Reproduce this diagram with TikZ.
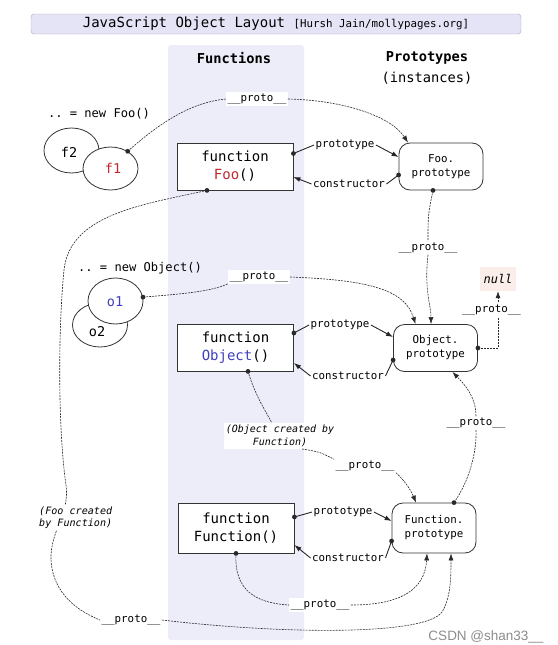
\documentclass[tikz,border=0pt]{standalone}
\usepackage{fontspec}
\setmonofont{DejaVu Sans Mono}
\newfontfamily\csdnfont{Liberation Sans}
\usetikzlibrary{arrows.meta,shapes.geometric}
\definecolor{colfill}{HTML}{EDEDFA}
\definecolor{titlefill}{HTML}{E4E4F6}
\definecolor{titleborder}{HTML}{A8A8C0}
\definecolor{fooRed}{HTML}{C0282E}
\definecolor{objBlue}{HTML}{3F3FBF}
\definecolor{nullbg}{HTML}{FBEDEA}
\definecolor{linec}{HTML}{2A2A2A}
\newcommand\dotat[1]{\fill[linec] #1 circle[radius=2.4pt];}
\begin{document}
\begin{tikzpicture}[x=1pt,y=-1pt,
  fbox/.style={draw=black!80, line width=0.8pt, fill=white, minimum width=116pt, minimum height=47pt, align=center, inner sep=0pt, font=\ttfamily\fontsize{14}{18}\selectfont},
  pbox/.style={draw=black!80, line width=0.8pt, rounded corners=11pt, fill=white, minimum width=84pt, minimum height=47pt, align=center, inner sep=0pt, font=\ttfamily\fontsize{10.8}{14}\selectfont},
  lbl/.style={fill=white, inner sep=1.5pt, font=\ttfamily\fontsize{10.8}{13}\selectfont},
  ell/.style={ellipse, draw=black!80, line width=0.8pt, fill=white, inner sep=0pt, font=\ttfamily\fontsize{13.5}{16}\selectfont},
  dl/.style={draw=linec, line width=0.6pt, dash pattern=on 2pt off 1pt},
  sl/.style={draw=black!85, line width=0.9pt},
  arrowend/.style={arrows={-Latex[length=7pt,width=5pt]}},
]
\useasboundingbox (0,0) rectangle (557,645);

% backgrounds
\node[fill=colfill, rounded corners=3pt, minimum width=136pt, minimum height=595pt, inner sep=0pt] (col) at (236,342.5) {};
\node[draw=titleborder, fill=titlefill, rounded corners=3pt, minimum width=490pt, minimum height=20pt, inner sep=0pt, font=\ttfamily] (title) at (276,24)
  {\fontsize{14}{16}\selectfont JavaScript Object Layout \fontsize{10.8}{12}\selectfont[Hursh Jain/mollypages.org]};

% headers
\node[font=\ttfamily\bfseries\fontsize{13.7}{16}\selectfont] (hfun) at (234,58) {Functions};
\node[font=\ttfamily\bfseries\fontsize{13.7}{16}\selectfont] (hprot) at (427,58) {Prototypes};
\node[font=\ttfamily\fontsize{13.7}{16}\selectfont] (hinst) at (427,78) {(instances)};

% instances
\node[font=\ttfamily\fontsize{12.1}{14}\selectfont] (newfoo) at (99,114) {.. = new Foo()};
\node[ell, minimum width=55pt, minimum height=45pt] (f2) at (71.5,150.5) {};
\node[font=\ttfamily\fontsize{13.5}{16}\selectfont] (f2t) at (69,152) {f2};
\node[ell, minimum width=55pt, minimum height=43pt] (f1) at (110.5,168.5) {};
\node[font=\ttfamily\fontsize{13.5}{16}\selectfont, text=fooRed] (f1t) at (113,168) {f1};
\node[font=\ttfamily\fontsize{12.1}{14}\selectfont] (newobj) at (140,268) {.. = new Object()};
\node[ell, minimum width=55pt, minimum height=44pt] (o2) at (100,325) {};
\node[font=\ttfamily\fontsize{13.5}{16}\selectfont] (o2t) at (97,332) {o2};
\node[ell, minimum width=55pt, minimum height=46pt] (o1) at (115.5,301) {};
\node[font=\ttfamily\fontsize{13.5}{16}\selectfont, text=objBlue] (o1t) at (115,302) {o1};

% function boxes
\node[fbox] (foo) at (235,166.5) {function\\\textcolor{fooRed}{Foo}()};
\node[fbox] (obj) at (235.5,347.5) {function\\\textcolor{objBlue}{Object}()};
\node[fbox, minimum height=50pt] (fun) at (236,528) {function\\Function()};

% prototype boxes
\node[pbox] (foop) at (441,166.5) {Foo.\\prototype};
\node[pbox] (objp) at (435.5,348) {Object.\\prototype};
\node[pbox, minimum height=50pt] (funp) at (434,528) {Function.\\prototype};

\node[fill=nullbg, minimum width=36pt, minimum height=24pt, inner sep=0pt, font=\ttfamily\itshape\fontsize{12}{14}\selectfont] (null) at (498,279) {null};

% labels
\node[lbl] (pt1) at (345,145) {prototype};
\node[lbl] (c1) at (349,184) {constructor};
\node[lbl] (pt2) at (340,325) {prototype};
\node[lbl] (c2) at (348,376) {constructor};
\node[lbl] (pt3) at (343,512) {prototype};
\node[lbl] (c3) at (348,558) {constructor};

\node[lbl] (pr1) at (257,99) {\_\_proto\_\_};
\node[lbl] (pr2) at (259,277) {\_\_proto\_\_};
\node[lbl] (pr3) at (428,248) {\_\_proto\_\_};
\node[lbl] (pr5) at (476,423) {\_\_proto\_\_};
\node[lbl] (pr6) at (365,466) {\_\_proto\_\_};
\node[lbl] (pr7) at (320,605) {\_\_proto\_\_};
\node[lbl] (pr8) at (131,620) {\_\_proto\_\_};
\node[fill=white, inner sep=2pt, align=center, font=\ttfamily\itshape\fontsize{10}{12.5}\selectfont] (objc) at (280,436) {(Object created by\\Function)};

% prototype / constructor arrows
\draw[sl] ([yshift=13pt]foo.east) -- (pt1.west);
\dotat{([yshift=13pt]foo.east)}
\draw[sl,arrowend] (pt1.east) -- ([yshift=9.5pt]foop.west);
\draw[sl] ([yshift=-8.5pt]foop.west) -- (c1.east);
\dotat{([yshift=-8.5pt]foop.west)}
\draw[sl,arrowend] (c1.west) -- ([yshift=-10.5pt]foo.east);

\draw[sl] ([yshift=14.5pt]obj.east) -- (pt2.west);
\dotat{([yshift=14.5pt]obj.east)}
\draw[sl,arrowend] (pt2.east) -- ([yshift=11pt]objp.west);
\draw[sl] ([yshift=-12pt]objp.west) -- (c2.east);
\dotat{([yshift=-12pt]objp.west)}
\draw[sl,arrowend] (c2.west) -- ([yshift=-15.5pt]obj.east);

\draw[sl] ([yshift=11pt]fun.east) -- (pt3.west);
\dotat{([yshift=11pt]fun.east)}
\draw[sl,arrowend] (pt3.east) -- ([yshift=7pt]funp.west);
\draw[sl] ([yshift=-13pt]funp.west) -- (c3.east);
\dotat{([yshift=-13pt]funp.west)}
\draw[sl,arrowend] (c3.west) -- ([yshift=-17pt]fun.east);

% __proto__ chains
\draw[dl] (f1.45) .. controls (165,118) and (195,102) .. (pr1.west);
\dotat{(f1.45)}
\draw[dl,arrowend] (pr1.east) .. controls (340,100) and (390,115) .. ([xshift=-33pt]foop.north);

\draw[dl] (o1.8) .. controls (180,294) and (210,292) .. (pr2.south west);
\dotat{(o1.8)}
\draw[dl,arrowend] (pr2.east) .. controls (370,280) and (405,290) .. ([xshift=-20pt]objp.north);

\draw[dl] ([xshift=-8pt]foop.south) .. controls (428,215) .. (pr3.north);
\dotat{([xshift=-8pt]foop.south)}
\draw[dl,arrowend] (pr3.south) .. controls (424,290) and (431,305) .. ([xshift=-4.5pt]objp.north);

\draw[dl,arrowend] (objp.east) -| (null.south);
\dotat{(objp.east)}
\node[lbl] (pr4) at (491.5,310) {\_\_proto\_\_};

\draw[dl] ([xshift=20pt]funp.north) .. controls (470,480) and (477,450) .. (pr5.south);
\dotat{([xshift=20pt]funp.north)}
\draw[dl,arrowend] (pr5.north) .. controls (476,395) and (462,382) .. ([xshift=17pt]objp.south);

\draw[dl] ([xshift=12.5pt]obj.south) .. controls (255,395) and (265,410) .. ([xshift=-8pt]objc.north);
\dotat{([xshift=12.5pt]obj.south)}
\draw[dl] ([xshift=22pt]objc.south) .. controls (320,452) .. (pr6.north west);
\draw[dl,arrowend] (pr6.south east) .. controls (402,478) and (410,488) .. ([xshift=-18pt]funp.north);

\draw[dl] (fun.south) .. controls (234,590) and (255,603) .. (pr7.west);
\dotat{(fun.south)}
\draw[dl,arrowend] (pr7.east) .. controls (400,605) and (425,590) .. ([xshift=-7pt]funp.south);

\draw[dl] ([xshift=-28pt]foo.south) .. controls (140,205) and (70,215) .. (64,270)
  .. controls (58,330) and (58,430) .. (66,485)
  .. controls (70,515) and (50,530) .. (51,560)
  .. controls (53,595) and (80,612) .. (pr8.west);
\dotat{([xshift=-28pt]foo.south)}
\draw[dl,arrowend] (pr8.east) .. controls (280,634) and (425,636) .. (442,612)
  .. controls (451,598) and (451,575) .. ([xshift=17pt]funp.south);
\node[fill=white, inner sep=1.5pt, align=left, anchor=west, font=\ttfamily\itshape\fontsize{10.1}{12.5}\selectfont] (fooc) at (37.5,517.5) {(Foo created\\by Function)};

\node[font=\csdnfont\fontsize{13.5}{15}\selectfont, text=black!45] (csdn) at (486,637) {CSDN @shan33\_\_};
\end{tikzpicture}
\end{document}
